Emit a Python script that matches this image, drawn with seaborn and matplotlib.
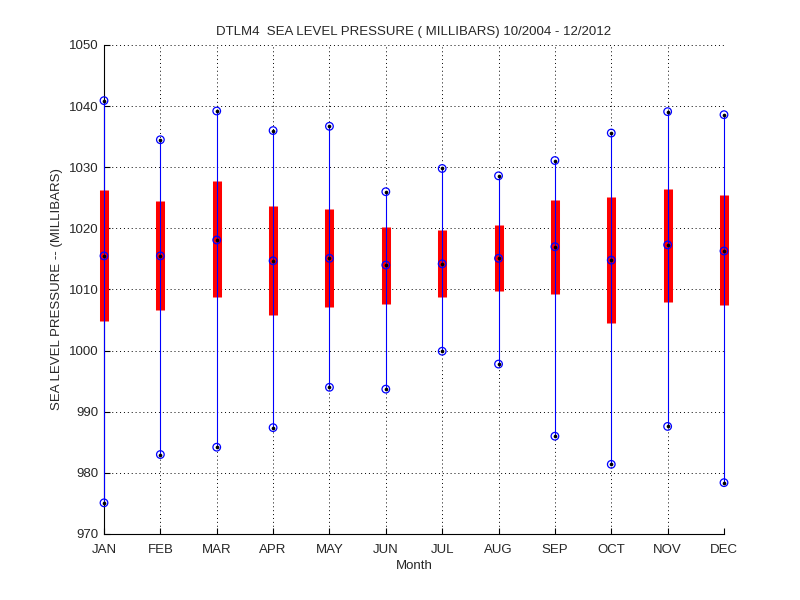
import numpy as np
import pandas as pd
import matplotlib
matplotlib.use("Agg")
import matplotlib.pyplot as plt
import seaborn as sns

# 月份与统计值
months = ['JAN', 'FEB', 'MAR', 'APR', 'MAY', 'JUN',
          'JUL', 'AUG', 'SEP', 'OCT', 'NOV', 'DEC']
p_max = [1040.9, 1034.5, 1039.2, 1036.0, 1036.7, 1026.0,
         1029.8, 1028.6, 1031.1, 1035.6, 1039.1, 1038.6]
p_q3 = [1026.2, 1024.4, 1027.7, 1023.6, 1023.1, 1020.3,
        1019.8, 1020.6, 1024.7, 1025.2, 1026.5, 1025.4]
p_med = [1015.5, 1015.5, 1018.1, 1014.7, 1015.1, 1014.0,
         1014.2, 1015.1, 1017.0, 1014.8, 1017.3, 1016.3]
p_q1 = [1004.8, 1006.7, 1008.7, 1005.9, 1007.2, 1007.6,
        1008.7, 1009.8, 1009.3, 1004.6, 1008.0, 1007.4]
p_min = [975.1, 983.0, 984.2, 987.4, 994.0, 993.7,
         999.9, 997.8, 986.0, 981.4, 987.6, 978.4]

sns.set_style("white")
plt.rcParams['font.family'] = ['Liberation Sans', 'DejaVu Sans']
plt.rcParams['font.size'] = 9.5

x = np.arange(1, 13)
df = pd.DataFrame({'x': x, 'max': p_max, 'q3': p_q3, 'med': p_med,
                   'q1': p_q1, 'min': p_min})
pts = df.melt(id_vars='x', value_vars=['max', 'med', 'min'], value_name='p')

fig = plt.figure(figsize=(8, 6), dpi=100)
ax = fig.add_axes([0.13, 0.11, 0.775, 0.815])

# 红色四分位柱 + 蓝色极值线
ax.vlines(df['x'], df['q1'], df['q3'], color='#ff0000', linewidth=6.5,
          zorder=3, clip_on=False)
ax.vlines(df['x'], df['min'], df['max'], color='#0000ff', linewidth=0.8,
          zorder=4, clip_on=False)

sns.scatterplot(data=pts, x='x', y='p', ax=ax, marker='o', s=30,
                facecolor='none', edgecolor='#0000ff', linewidth=0.9,
                zorder=5, clip_on=False, legend=False)
sns.scatterplot(data=pts, x='x', y='p', ax=ax, marker='o', s=7,
                color='black', linewidth=0, zorder=6, clip_on=False,
                legend=False)

ax.set_xlim(1, 12)
ax.set_ylim(970, 1050)
ax.set_xticks(x)
ax.set_xticklabels(months)
ax.set_yticks(np.arange(970, 1051, 10))

ax.grid(True, color='black', linestyle=(0, (1, 3)), linewidth=0.7)
ax.set_axisbelow(True)
for s in ['top', 'right']:
    ax.spines[s].set_visible(False)
for s in ['left', 'bottom']:
    ax.spines[s].set_linewidth(0.8)
    ax.spines[s].set_color('black')
ax.tick_params(direction='in', length=4, width=0.8, color='black',
               labelsize=9.5, left=True, bottom=True)
ax.tick_params(axis='x', pad=7)
ax.tick_params(axis='y', pad=4)

ax.set_xlabel('Month', fontsize=9.5, labelpad=3)
ax.set_ylabel('SEA LEVEL PRESSURE -- (MILLIBARS)', fontsize=9.5, labelpad=4)
ax.set_title('DTLM4  SEA LEVEL PRESSURE ( MILLIBARS) 10/2004 - 12/2012',
             fontsize=9.5, pad=7)

fig.savefig('out.png', dpi=100)
